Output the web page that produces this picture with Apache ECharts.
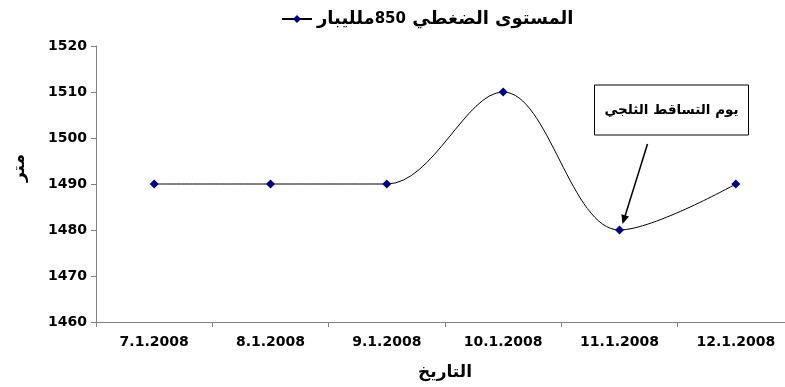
<!DOCTYPE html>
<html><head><meta charset="utf-8">
<script src="https://cdn.jsdelivr.net/npm/echarts@6/dist/echarts.min.js"></script>
<style>html,body{margin:0;padding:0;background:#fff}#c{width:785px;height:387px}</style>
</head><body><div id="c"></div>
<script>
const categories = ['7.1.2008','8.1.2008','9.1.2008','10.1.2008','11.1.2008','12.1.2008'];
const heights = [1490, 1490, 1490, 1510, 1480, 1490];
const levelWords = 'المستوى الضغطي';
const levelNumber = '850';
const levelUnit = 'ملليبار';
const seriesName = levelWords + ' ' + levelNumber + levelUnit;
const yTitle = 'متر';
const xTitle = 'التاريخ';
const noteText = 'يوم التساقط الثلجي';
const noteIndex = 4;

const chart = echarts.init(document.getElementById('c'));
const font = '"DejaVu Sans", sans-serif';
chart.setOption({
  animation: false,
  backgroundColor: '#fff',
  legend: {
    top: 5, left: 276,
    data: [seriesName],
    itemWidth: 30, itemHeight: 10, itemGap: 4,
    formatter: function () {
      return '{a|' + levelUnit + '}{n|' + levelNumber + '}{a| ' + levelWords + '}';
    },
    textStyle: {fontFamily: font, fontWeight: 'bold', fontSize: 14, color: '#000',
      rich: {
        a: {fontFamily: font, fontWeight: 'bold', fontSize: 18, color: '#000'},
        n: {fontFamily: font, fontWeight: 'bold', fontSize: 15, color: '#000'}
      }}
  },
  grid: {left: 96, width: 698, top: 46, bottom: 65, containLabel: false, outerBoundsMode: 'none'},
  xAxis: {
    type: 'category', data: categories, boundaryGap: true,
    name: xTitle, nameLocation: 'middle', nameGap: 42,
    nameTextStyle: {fontFamily: font, fontWeight: 'bold', fontSize: 17, color: '#000'},
    axisLine: {lineStyle: {color: '#808080', width: 1}},
    axisTick: {show: true, alignWithLabel: false, length: 5, lineStyle: {color: '#808080'}},
    axisLabel: {fontFamily: font, fontWeight: 'bold', fontSize: 14, color: '#000', margin: 13}
  },
  yAxis: {
    type: 'value', min: 1460, max: 1520, interval: 10,
    name: yTitle, nameLocation: 'middle', nameGap: 68, nameRotate: 90,
    nameTextStyle: {fontFamily: font, fontWeight: 'bold', fontSize: 17, color: '#000', padding: [0, 0, 0, 32]},
    axisLine: {show: true, lineStyle: {color: '#808080', width: 1}},
    axisTick: {show: true, length: 5, lineStyle: {color: '#808080'}},
    splitLine: {show: false},
    axisLabel: {fontFamily: font, fontWeight: 'bold', fontSize: 14, color: '#000', margin: 9,
      formatter: function (v) { return String(v); }}
  },
  series: [{
    name: seriesName, type: 'line', data: heights, smooth: 0.35,
    symbol: 'diamond', symbolSize: 9,
    itemStyle: {color: '#000080'},
    lineStyle: {color: '#000', width: 1}
  }]
});

const p = chart.convertToPixel({seriesIndex: 0}, [noteIndex, heights[noteIndex]]);
const bx = p[0] - 25, by = p[1] - 145;
chart.setOption({
  graphic: [
    {type: 'rect', shape: {x: bx, y: by, width: 154, height: 50},
     style: {fill: '#fff', stroke: '#000', lineWidth: 1}},
    {type: 'text', style: {x: bx + 77, y: by + 25, text: noteText, align: 'center', verticalAlign: 'middle',
      font: 'bold 13.5px "DejaVu Sans", sans-serif', fill: '#000'}},
    {type: 'line', shape: {x1: bx + 53, y1: by + 59, x2: p[0] + 4, y2: p[1] - 9},
     style: {stroke: '#000', lineWidth: 1.5}},
    {type: 'polygon', shape: {points: (function(){
       const x2 = p[0] + 3, y2 = p[1] - 6, x1 = bx + 53, y1 = by + 59;
       const a = Math.atan2(y2 - y1, x2 - x1), L = 9, W = 4;
       const bxp = x2 - L*Math.cos(a), byp = y2 - L*Math.sin(a);
       return [[x2, y2], [bxp + W*Math.sin(a), byp - W*Math.cos(a)], [bxp - W*Math.sin(a), byp + W*Math.cos(a)]];
     })()}, style: {fill: '#000'}}
  ]
});
</script></body></html>
